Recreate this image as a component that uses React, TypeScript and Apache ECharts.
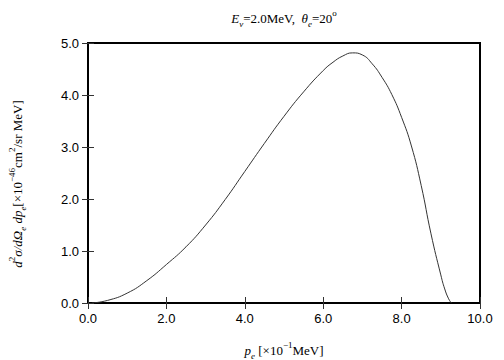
import React, { useEffect, useRef } from "react";
import * as echarts from "echarts";

const momentum = [0.1, 0.5, 1.0, 1.5, 2.0, 2.5, 3.0, 3.5, 4.0, 4.5, 5.0, 5.5, 6.0, 6.25, 6.5, 6.75, 7.0, 7.25, 7.5, 7.75, 8.0, 8.25, 8.5, 8.75, 9.0, 9.1, 9.2, 9.27];
const crossSection = [0.0, 0.05, 0.19, 0.43, 0.74, 1.08, 1.5, 1.99, 2.53, 3.07, 3.59, 4.06, 4.47, 4.63, 4.75, 4.81, 4.77, 4.6, 4.34, 4.01, 3.57, 3.02, 2.26, 1.33, 0.54, 0.27, 0.08, 0.0];

const xTicks = [0, 2, 4, 6, 8, 10];
const yTicks = [0, 1, 2, 3, 4, 5];

const SERIF = "'Liberation Serif', 'DejaVu Serif', serif";
const SANS = "'Liberation Sans', Arial, sans-serif";

const richBase = (size: number) => ({
  n: { fontFamily: SERIF, fontSize: size, lineHeight: 20, verticalAlign: "middle" as const, color: "#000" },
  i: { fontFamily: SERIF, fontSize: size, fontStyle: "italic" as const, lineHeight: 20, verticalAlign: "middle" as const, color: "#000" },
  sub: { fontFamily: SERIF, fontSize: 9, fontStyle: "italic" as const, lineHeight: 9, verticalAlign: "bottom" as const, color: "#000" },
  sup: { fontFamily: SERIF, fontSize: 9, lineHeight: 9, verticalAlign: "top" as const, color: "#000" },
});

export default function App() {
  const ref = useRef<HTMLDivElement>(null);
  useEffect(() => {
    document.body.style.margin = "0";
    const chart = echarts.init(ref.current!, undefined, { renderer: "svg" });
    const data = momentum.map((x, k) => [x, crossSection[k]]);
    const rich = richBase(13);
    const tickStyle = { show: true, inside: true, length: 6, lineStyle: { color: "#333", width: 1 } };
    chart.setOption({
      animation: false,
      backgroundColor: "#fff",
      grid: { left: 88, right: 24, top: 43, bottom: 57, show: true, borderColor: "#000", borderWidth: 2, backgroundColor: "transparent" },
      xAxis: [
        {
          type: "value", min: xTicks[0], max: xTicks[xTicks.length - 1], interval: 2,
          axisLine: { show: false }, splitLine: { show: false },
          axisTick: tickStyle,
          axisLabel: { margin: 9, fontFamily: SANS, fontSize: 13, color: "#000", formatter: (v: number) => v.toFixed(1) },
        },
        {
          type: "value", position: "top", min: 0, max: 10, interval: 2,
          axisLine: { show: false }, splitLine: { show: false },
          axisTick: tickStyle, axisLabel: { show: false },
        },
      ],
      yAxis: [
        {
          type: "value", min: yTicks[0], max: yTicks[yTicks.length - 1], interval: 1,
          axisLine: { show: false }, splitLine: { show: false },
          axisTick: tickStyle,
          axisLabel: { margin: 9, fontFamily: SANS, fontSize: 13, color: "#000", formatter: (v: number) => v.toFixed(1) },
        },
        {
          type: "value", position: "right", min: 0, max: 5, interval: 1,
          axisLine: { show: false }, splitLine: { show: false },
          axisTick: tickStyle, axisLabel: { show: false },
        },
      ],
      series: [
        {
          type: "line", data, showSymbol: false, smooth: 0.5,
          lineStyle: { color: "#333", width: 1 },
        },
      ],
      graphic: [
        {
          type: "text", x: 284, y: 18,
          style: {
            text: "{i|E}{sub|ν}{n|=2.0MeV,  }{i|θ}{sub|e}{n|=20}{sup|o}",
            rich, align: "center", verticalAlign: "middle",
          },
        },
        {
          type: "text", x: 284, y: 350,
          style: {
            text: "{i|p}{sub|e}{n| [×10}{sup|−1}{n|MeV]}",
            rich, align: "center", verticalAlign: "middle",
          },
        },
        {
          type: "text", x: 17, y: 184, rotation: Math.PI / 2,
          style: {
            text: "{i|d}{sup|2}{i|σ/dΩ}{sub|e}{i| dp}{sub|e}{n|[×10}{sup|−46}{n|cm}{sup|2}{n|/sr MeV]}",
            rich, align: "center", verticalAlign: "middle",
          },
        },
      ],
    });
    return () => chart.dispose();
  }, []);
  return <div ref={ref} style={{ width: 504, height: 360, position: "absolute", left: 0, top: 0 }} />;
}
